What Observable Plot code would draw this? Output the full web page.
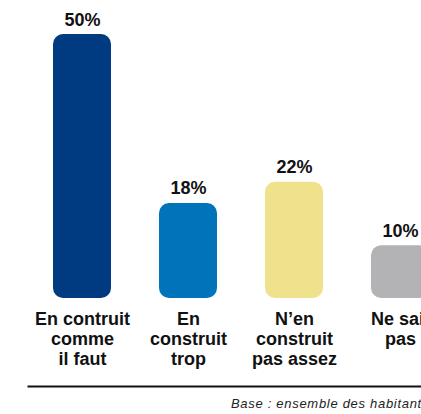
<!DOCTYPE html>
<html><head><meta charset="utf-8">
<script src="https://cdn.jsdelivr.net/npm/d3@7"></script>
<script src="https://cdn.jsdelivr.net/npm/@observablehq/plot@0.6"></script>
<style>
html,body{margin:0;padding:0;background:#fff;overflow:hidden;width:421px;height:414px;}
#chart{position:relative;width:421px;height:414px;overflow:hidden;}
.caption{position:absolute;left:231px;top:396px;font-family:"Liberation Sans",Arial,sans-serif;font-style:italic;font-size:13px;letter-spacing:0.7px;line-height:15px;white-space:nowrap;color:#222;}
</style></head><body><div id="chart"></div>
<script>
const categories = ["En contruit\ncomme\nil faut", "En\nconstruit\ntrop", "N’en\nconstruit\npas assez", "Ne sait\npas"];
const values = [50, 18, 22, 10];
const valueLabels = ["50%", "18%", "22%", "10%"];
const colors = ["#003a80", "#0073bb", "#f0e18d", "#b3b3b5"];
const caption = "Base : ensemble des habitants";

const data = categories.map((c, i) => ({category: c, value: values[i], label: valueLabels[i]}));

const plot = Plot.plot({
  width: 421, height: 392,
  marginTop: 0, marginRight: 0, marginBottom: 6, marginLeft: 28,
  style: {fontFamily: "'Liberation Sans', Arial, sans-serif", background: "transparent", overflow: "visible"},
  x: {domain: categories, range: [5, 477], padding: 0.45, axis: null},
  y: {domain: [0, 50], range: [298, 34], axis: null},
  color: {domain: categories, range: colors},
  marks: [
    Plot.barY(data, {x: "category", y: "value", fill: "category", rx: 10}),
    Plot.text(data, {x: "category", y: "value", text: "label", lineAnchor: "bottom", dy: -9, fontSize: 18, fontWeight: "bold", fill: "#111"}),
    Plot.text(data, {x: "category", y: () => 0, text: "category", lineAnchor: "top", dy: 12, fontSize: 18, fontWeight: "bold", lineHeight: 1.11, fill: "#111"}),
    Plot.frame({anchor: "bottom", stroke: "#111", strokeWidth: 2})
  ]
});
const chart = document.getElementById("chart");
chart.appendChild(plot);
const cap = document.createElement("div");
cap.className = "caption";
cap.textContent = caption;
chart.appendChild(cap);
</script></body></html>
